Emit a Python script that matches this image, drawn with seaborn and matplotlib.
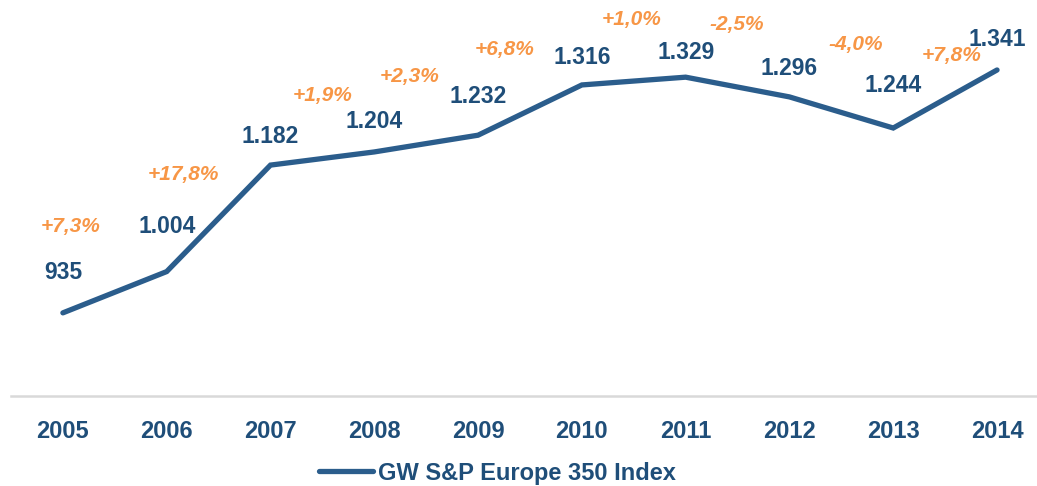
import matplotlib
matplotlib.use("Agg")
import matplotlib.pyplot as plt
import pandas as pd
import seaborn as sns

years = [2005, 2006, 2007, 2008, 2009, 2010, 2011, 2012, 2013, 2014]
index_values = [935, 1004, 1182, 1204, 1232, 1316, 1329, 1296, 1244, 1341]
value_labels = ["935", "1.004", "1.182", "1.204", "1.232", "1.316", "1.329", "1.296", "1.244", "1.341"]
growth_labels = ["+7,3%", "+17,8%", "+1,9%", "+2,3%", "+6,8%", "+1,0%", "-2,5%", "-4,0%", "+7,8%"]
series_name = "GW S&P Europe 350 Index"

# hand placement of the labels (as in the original slide)
value_dy = [40, 45, 29, 30, 39, 27, 25, 28, 43, 30]
growth_x = [2005.07, 2006.16, 2007.5, 2008.34, 2009.26, 2010.48, 2011.49, 2012.64, 2013.56]
growth_y = [1080, 1167, 1298, 1330, 1375, 1425, 1417, 1383, 1366]

blue_line = "#2b5d8c"
blue_text = "#1f4e79"
orange = "#f79646"

sns.set_theme(style="white")
plt.rcParams["font.family"] = ["Liberation Sans", "DejaVu Sans"]

df = pd.DataFrame({"year": years, "value": index_values})

fig = plt.figure(figsize=(10.37, 4.86), dpi=100)
ax = fig.add_axes([11 / 1037, 90 / 486, 1026 / 1037, 396 / 486])

sns.lineplot(data=df, x="year", y="value", ax=ax, color=blue_line, linewidth=3.8,
             label=series_name, solid_capstyle="round", solid_joinstyle="miter")

for x, y, txt, dy in zip(years, index_values, value_labels, value_dy):
    ax.annotate(txt, (x, y), xytext=(0, dy * 0.72), textcoords="offset points",
                ha="center", va="center", fontsize=16.5, fontweight="bold", color=blue_text)

for x, y, txt in zip(growth_x, growth_y, growth_labels):
    ax.text(x, y, txt, ha="center", va="center", fontsize=15, fontweight="bold",
            fontstyle="italic", color=orange)

ax.set_xlim(2004.5, 2014.385)
ax.set_ylim(796, 1458)
ax.set_xticks(years)
ax.set_xticklabels([str(y) for y in years])
ax.set_yticks([])
ax.set_xlabel("")
ax.set_ylabel("")
ax.tick_params(axis="x", length=0, pad=17, labelsize=17, labelcolor=blue_text)
for lab in ax.get_xticklabels():
    lab.set_fontweight("bold")

for side in ["top", "left", "right"]:
    ax.spines[side].set_visible(False)
ax.spines["bottom"].set_color("#d9d9d9")
ax.spines["bottom"].set_linewidth(1.8)

ax.get_legend().remove()
handles, labels = ax.get_legend_handles_labels()
leg = fig.legend(handles, labels, loc="center", bbox_to_anchor=(497 / 1037, 13 / 486),
                 frameon=False, handlelength=2.3, handletextpad=0.2,
                 prop={"size": 17, "weight": "bold"})
for t in leg.get_texts():
    t.set_color(blue_text)

fig.savefig("out.png", dpi=100)
